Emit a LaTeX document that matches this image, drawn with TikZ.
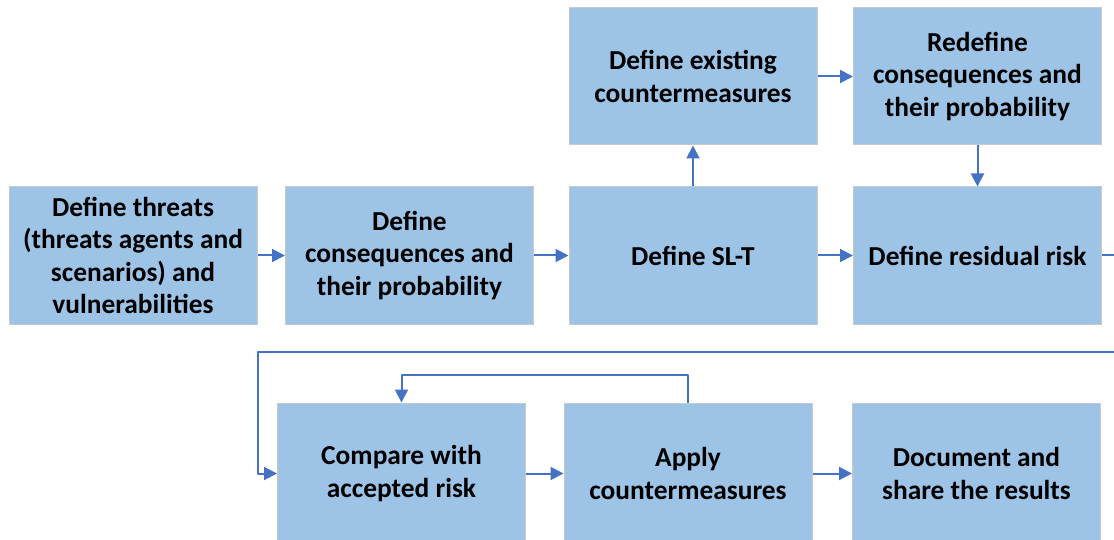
\documentclass[tikz,border=0pt]{standalone}
\usepackage{fontspec}
\setmainfont{Carlito}
\usetikzlibrary{arrows.meta}
\definecolor{boxblue}{HTML}{9DC3E6}
\definecolor{boxedge}{HTML}{C9C9C9}
\definecolor{flowblue}{HTML}{4472C4}
\tikzset{
  stage/.style={draw=boxedge, line width=1pt, fill=boxblue,
    minimum width=248pt, minimum height=137pt, inner sep=0pt,
    align=center, font=\fontsize{27.4}{32.5}\selectfont\bfseries},
  flow/.style={draw=flowblue, line width=2pt, line join=round}
}
\begin{document}
\begin{tikzpicture}[x=1pt, y=-1pt, >={Triangle[length=13pt,width=13pt]}]
  \clip (0,0) rectangle (1114,540);
  % upper stages
  \node[stage] (exist) at (693,76.5) {Define existing\\countermeasures};
  \node[stage] (redef) at (977.5,76.5) {Redefine\\consequences and\\their probability};
  % middle row
  \node[stage] (threat) at (133,255.5) {Define threats\\(threats agents and\\scenarios) and\\vulnerabilities};
  \node[stage] (conseq) at (409.5,255.5) {Define\\consequences and\\their probability};
  \node[stage] (slt) at (693,255.5) {Define SL-T};
  \node[stage] (resid) at (977.5,255.5) {Define residual risk};
  % lower row (runs past the bottom edge)
  \node[stage,minimum height=141pt] (compare) at (401.5,473.5) {Compare with\\accepted risk};
  \node[stage,minimum height=141pt] (apply) at (688,473.5) {Apply\\countermeasures};
  \node[stage,minimum height=141pt] (report) at (976.5,473.5) {Document and\\share the results};
  \coordinate (outR) at (1130,352);
  \coordinate (outL) at (258,352);
  \draw[flow,->] (threat) -- (conseq);
  \draw[flow,->] (conseq) -- (slt);
  \draw[flow,->] (slt) -- (resid);
  \draw[flow,->] (slt) -- (exist);
  \draw[flow,->] (exist) -- (redef);
  \draw[flow,->] (redef) -- (resid);
  \draw[flow,->] (resid.east) -| (outR) -- (outL) |- (compare.west);
  \draw[flow,->] (compare) -- (apply);
  \draw[flow,->] (apply) -- (report);
  \draw[flow,->] (apply.north) -- ++(0,-28) -| (compare.north);
\end{tikzpicture}
\end{document}
